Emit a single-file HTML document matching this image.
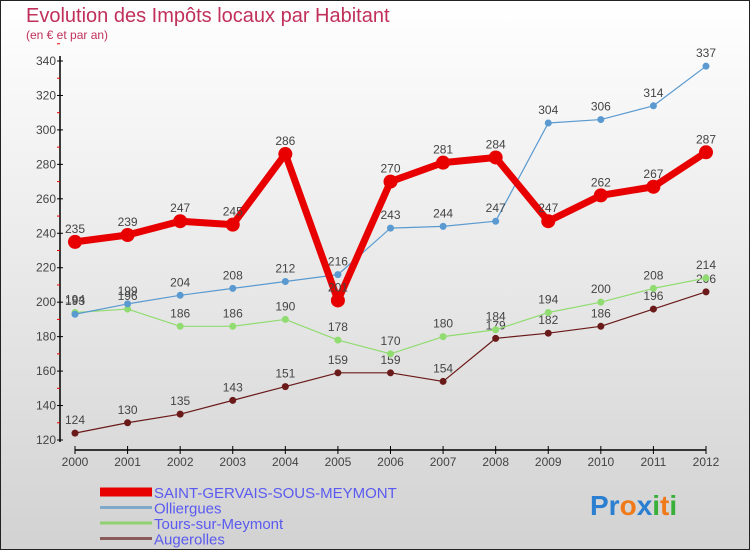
<!DOCTYPE html>
<html><head><meta charset="utf-8"><style>
body{margin:0;width:750px;height:550px;overflow:hidden;font-family:"Liberation Sans",sans-serif}
#c{position:absolute;left:0;top:0;width:748px;height:548px;border:1px solid #222;background:linear-gradient(#fff,#d2d2d2)}
</style></head><body>
<div id="c"></div>
<svg id="s" width="750" height="550" style="position:absolute;left:0;top:0">
<text x="26" y="22" font-size="20" fill="#c0305a">Evolution des Impôts locaux par Habitant</text>
<text x="26" y="39" font-size="12" fill="#c0305a">(en € et par an)</text>
<text x="590" y="515" font-size="28" font-weight="bold"><tspan fill="#2a7fd0">Pr</tspan><tspan fill="#f07a1a">o</tspan><tspan fill="#2a7fd0">x</tspan><tspan fill="#3ab03a">i</tspan><tspan fill="#f07a1a">t</tspan><tspan fill="#3ab03a">i</tspan></text>
</svg>
<script>
const years=[2000,2001,2002,2003,2004,2005,2006,2007,2008,2009,2010,2011,2012];
const yTicks=[120,140,160,180,200,220,240,260,280,300,320,340];
const stGervais=[235,239,247,245,286,201,270,281,284,247,262,267,287];
const olliergues=[193,199,204,208,212,216,243,244,247,304,306,314,337];
const tours=[194,196,186,186,190,178,170,180,184,194,200,208,214];
const augerolles=[124,130,135,143,151,159,159,154,179,182,186,196,206];
const seriesNames=["SAINT-GERVAIS-SOUS-MEYMONT","Olliergues","Tours-sur-Meymont","Augerolles"];
const NS="http://www.w3.org/2000/svg",svg=document.getElementById('s');
const X=i=>75+i*(706-75)/12, Y=v=>440-(v-120)*(440-61)/220;
function el(t,a,p){const e=document.createElementNS(NS,t);for(const k in a)e.setAttribute(k,a[k]);(p||svg).appendChild(e);return e;}
let e;
e=el('line',{x1:60,y1:56,x2:60,y2:442,stroke:'#000','stroke-width':1.5});


e=el('line',{x1:75,y1:450,x2:706,y2:450,stroke:'#000','stroke-width':1.5});


yTicks.forEach(v=>{
 el('line',{x1:57,x2:63,y1:Y(v),y2:Y(v),stroke:'#000'});
 el('line',{x1:57,x2:60,y1:Y(v+10),y2:Y(v+10),stroke:'#e00'});
 e=el('text',{x:56,y:Y(v)+4,'font-size':12,fill:'#444','text-anchor':'end'});e.textContent=v;
 
 
});
years.forEach((y,i)=>{
 el('line',{x1:X(i),x2:X(i),y1:446,y2:454,stroke:'#000'});
 e=el('text',{x:X(i),y:466,'font-size':12,fill:'#444','text-anchor':'middle'});e.textContent=y;
 
 
});
function series(d,col,w,r,name){
 e=el('polyline',{points:d.map((v,i)=>X(i)+','+Y(v)).join(' '),fill:'none',stroke:col,'stroke-width':w,'stroke-linejoin':'round'});
 
 
 d.forEach((v,i)=>{
  e=el('circle',{cx:X(i),cy:Y(v),r:r,fill:col});
  
  
  e=el('text',{x:X(i),y:Y(v)-9,'font-size':12,fill:'#444','text-anchor':'middle'});e.textContent=v;
  
  
 });
}
series(augerolles,'#6b1a1a',1.2,3.5,'augerolles');
series(tours,'#90dc70',1.2,3.5,'tours');
series(olliergues,'#5a9ad0',1.2,3.5,'olliergues');
series(stGervais,'#e80000',7,7,'saint-gervais');
const legCols=['#e80000','#80a8c8','#90d070','#8a5a5a'],legW=[9,3,3,3];
seriesNames.forEach((n,i)=>{
 const y=492+i*15.5;
 e=el('line',{x1:100,x2:152,y1:y,y2:y,stroke:legCols[i],'stroke-width':legW[i]});
 
 
 e=el('text',{x:154,y:y+6,'font-size':15,fill:'#5a5af0'});e.textContent=n;
 
 
});
</script>
</body></html>
